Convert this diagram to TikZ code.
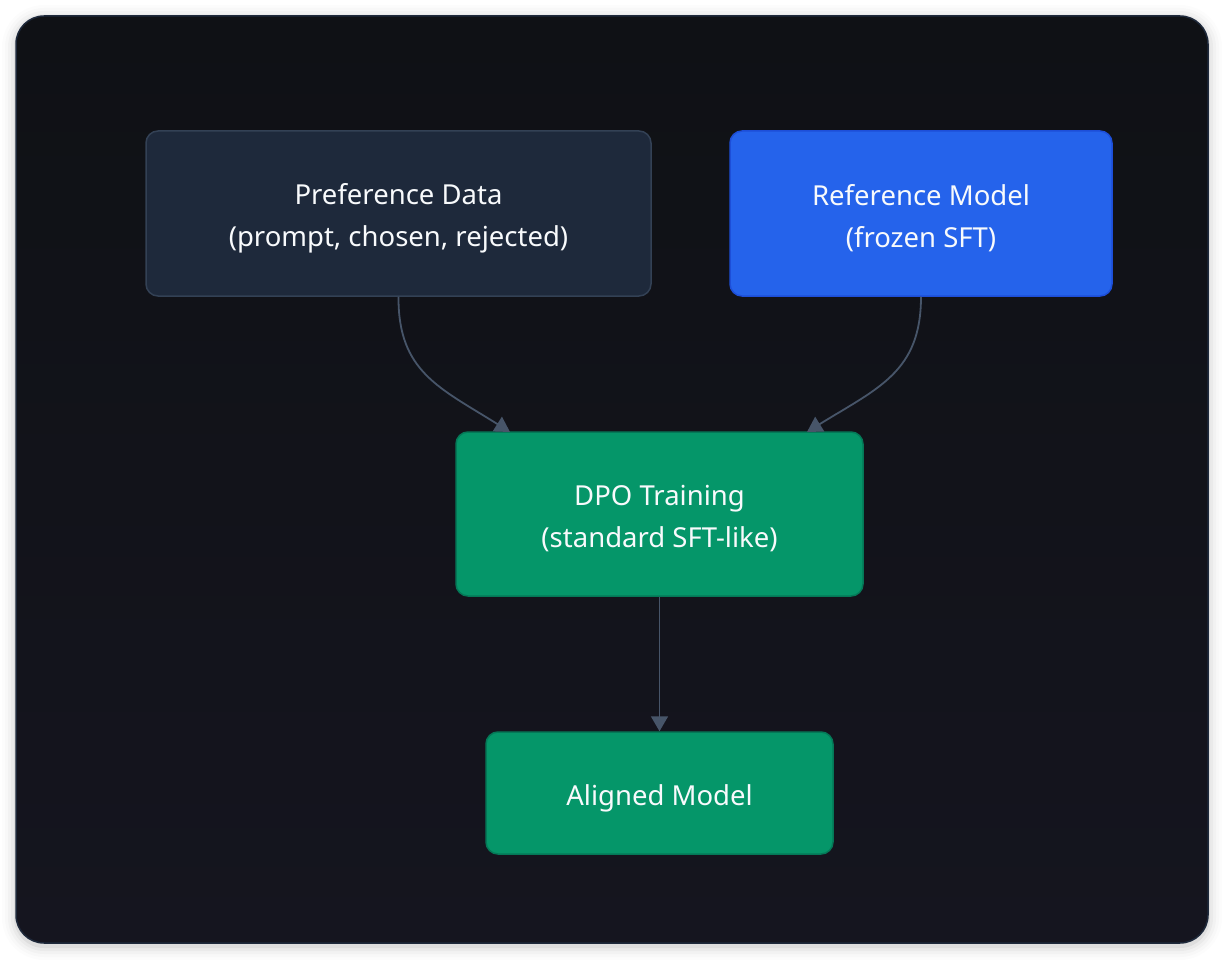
\documentclass[tikz,border=0pt]{standalone}
\usepackage{fontspec}
\setmainfont{Noto Sans}
\usetikzlibrary{arrows.meta,positioning}
\definecolor{panelA}{HTML}{0F1115}
\definecolor{panelB}{HTML}{15151F}
\definecolor{panelborder}{HTML}{1E293B}
\definecolor{slatebox}{HTML}{1E293B}
\definecolor{slateborder}{HTML}{334155}
\definecolor{bluebox}{HTML}{2563EB}
\definecolor{blueborder}{HTML}{1D4ED8}
\definecolor{greenbox}{HTML}{059669}
\definecolor{greenborder}{HTML}{047857}
\definecolor{edgecol}{HTML}{475569}
\definecolor{txt}{HTML}{F8FAFC}
\newcommand{\lowline}[1]{\raisebox{-5pt}[\height][\depth]{#1}}
\tikzset{
  box/.style={draw, line width=1.5pt, rounded corners=12pt, align=center,
    text=txt, font=\fontsize{27.5}{42}\selectfont, inner sep=0pt},
  slatestyle/.style={box, fill=slatebox, draw=slateborder},
  bluestyle/.style={box, fill=bluebox, draw=blueborder},
  greenstyle/.style={box, fill=greenbox, draw=greenborder},
  conn/.style={draw=edgecol, line width=1.8pt, -{Triangle[length=15pt,width=17pt]}}
}
\begin{document}
\begin{tikzpicture}[x=1pt,y=-1pt]
\useasboundingbox (0,0) rectangle (1224,960);
\fill[white] (0,0) rectangle (1224,960);
% soft shadow of the panel
\foreach \i/\o in {14/0.010,11/0.015,8/0.022,5/0.03,2/0.05}{
  \fill[black,opacity=\o,rounded corners={28+\i}] (16-\i,16-\i+3) rectangle (1208+\i,943+\i+3);
}
\shade[top color=panelA, bottom color=panelB, rounded corners=28pt]
  (16,16) rectangle (1208,943);
\draw[panelborder, line width=1.5pt, rounded corners=28pt]
  (16,16) rectangle (1208,943);

\node[slatestyle, minimum width=505pt, minimum height=165pt] (pref) at (398.5,213.5)
  {\lowline{Preference Data}\\\lowline{(prompt, chosen, rejected)}};
\node[bluestyle, minimum width=382pt, minimum height=165pt] (ref) at (921,213.5)
  {\lowline{Reference Model}\\\lowline{(frozen SFT)}};
\node[greenstyle, minimum width=407pt, minimum height=164pt] (dpo) at (659.5,514)
  {\lowline{DPO Training}\\\lowline{(standard SFT-like)}};
\node[greenstyle, minimum width=347pt, minimum height=122pt] (aligned) at (659.5,793)
  {\lowline{Aligned Model}};

\coordinate (e1) at (510,432);
\coordinate (e2) at (807,432);
\draw[conn] (pref.south) .. controls (398,372) and (440,388) .. (e1);
\draw[conn] (ref.south) .. controls (921,372) and (878,388) .. (e2);
\draw[conn] (dpo.south) -- (aligned.north);
\end{tikzpicture}
\end{document}
